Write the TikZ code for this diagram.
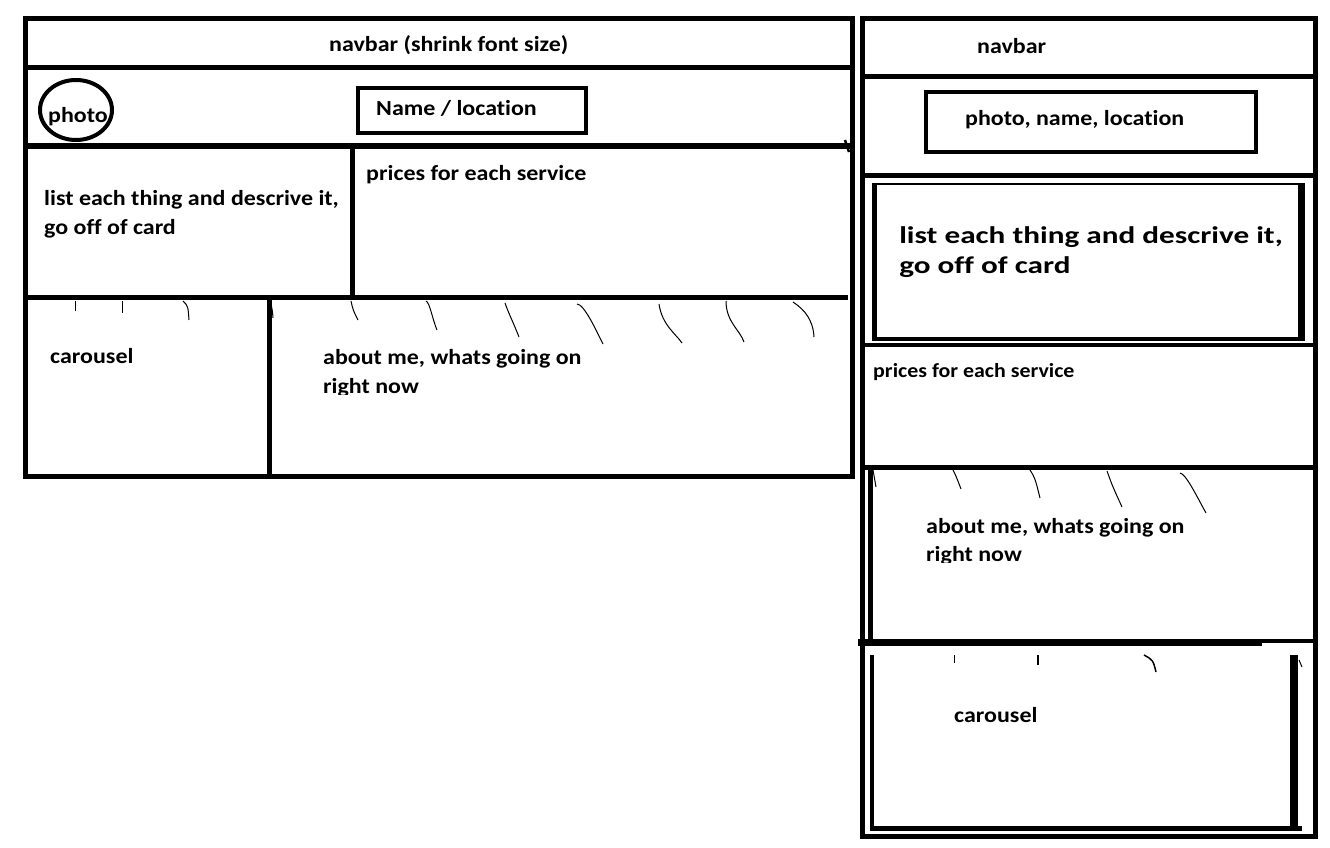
\documentclass[tikz,border=0pt]{standalone}
\usepackage{fontspec}
\setmainfont{Carlito}[Ligatures=NoCommon]
\begin{document}
\begin{tikzpicture}[x=1pt,y=-1pt,
  frame/.style={line width=5pt},
  boxline/.style={line width=4pt},
  hair/.style={line width=1pt},
  lbl/.style={font=\bfseries\fontsize{21.5}{26}\selectfont, anchor=base west, inner sep=0pt, xscale=1.115},
  lblbig/.style={font=\bfseries\fontsize{24}{29}\selectfont, anchor=base west, inner sep=0pt, xscale=1.30},
  lblsmall/.style={font=\bfseries\fontsize{20}{24}\selectfont, anchor=base west, inner sep=0pt, xscale=1.095}]
\useasboundingbox[fill=white] (0,0) rectangle (1330,848);

% ---------- left (desktop) wireframe ----------
\draw[frame] (25,19) rectangle (852,476);
\draw[frame] (25,68) -- (852,68);
\draw[frame] (25,146) -- (850,146);
\draw[frame] (352,146) -- (352,297);
\draw[frame] (25,297) -- (848,297);
\draw[frame] (269,297) -- (269,476);
\draw[boxline] (76,110) ellipse [x radius=36pt, y radius=30pt];
\draw[boxline] (358,88) rectangle (586,133);
\draw[line width=2.5pt] (845,140) -- (849,152);

\node[lbl] (navL) at (329,52) {navbar (shrink font size)};
\node[lbl] (photoL) at (48,123) {photo};
\node[lbl] (nameL) at (376,116) {Name / location};
\node[lbl] (listL1) at (44,205) {list each thing and descrive it,};
\node[lbl] (listL2) at (44,234) {go off of card};
\node[lbl] (priceL) at (366,180) {prices for each service};
\node[lbl] (carL) at (50,363) {carousel};
\node[lbl] (aboutL1) at (323,364) {about me, whats going on};
\begin{scope}
  \clip (300,370) rectangle (700,394);
  \node[lbl] (aboutL2) at (323,393) {right now};
\end{scope}

% hand-drawn strokes under the carousel / about row
\draw[hair] (75,301) -- (75,311);
\draw[hair] (122,301) -- (122,313);
\draw[hair] (183,301) .. controls (188,306) .. (189,320);
\draw[hair] (268,301) .. controls (272,306) .. (273,318);
\draw[hair] (351,301) .. controls (353,310) .. (358,320);
\draw[hair] (426,301) .. controls (430,303) and (432,318) .. (437,330);
\draw[hair] (505,303) .. controls (508,312) and (514,324) .. (519,337);
\draw[hair] (577,304) .. controls (584,304) and (596,330) .. (603,344);
\draw[hair] (659,304) .. controls (662,325) and (676,334) .. (682,343);
\draw[hair] (726,301) .. controls (726,322) and (740,330) .. (744,342);
\draw[hair] (793,302) .. controls (805,310) and (813,320) .. (814,337);

% ---------- right (mobile) wireframe ----------
\draw[frame] (862,19) rectangle (1315,836);
\draw[frame] (862,77) -- (1315,77);
\draw[frame] (862,175) -- (1315,175);
\draw[boxline] (925.5,92.5) rectangle (1256,151.5);
% list box
\draw[line width=2pt] (872,183.5) -- (1305,183.5);
\draw[line width=5pt] (874.5,183) -- (874.5,341);
\draw[line width=7pt] (1301.5,183) -- (1301.5,341);
\draw[line width=4pt] (872,339) -- (1305,339);
\draw[boxline] (862,345) -- (1315,345);
\draw[frame] (862,467.5) -- (1315,467.5);
\draw[frame] (870,468) -- (870,641);
\draw[line width=7pt] (858,642) -- (1262,642);
\draw[boxline] (1262,641) -- (1315,641);
% carousel inner box
\draw[boxline] (872,655) -- (872,830);
\draw[line width=8pt] (1294,655) -- (1294,830);
\draw[frame] (870,828.5) -- (1302,828.5);

\node[lbl] (navR) at (977,54) {navbar};
\node[lbl] (photoR) at (965,125) {photo, name, location};
\node[lblbig] (listR1) at (899,243) {list each thing and descrive it,};
\node[lblbig] (listR2) at (899,273) {go off of card};
\node[lblsmall] (priceR) at (873,377) {prices for each service};
\node[lbl] (aboutR1) at (926,533) {about me, whats going on};
\begin{scope}
  \clip (900,540) rectangle (1250,562);
  \node[lbl] (aboutR2) at (926,561.5) {right now};
\end{scope}
\node[lbl] (carR) at (954,722) {carousel};

\draw[hair] (873,470) -- (876,487);
\draw[hair] (953,470) .. controls (956,476) .. (961,489);
\draw[hair] (1030,470) .. controls (1035,478) .. (1040,498);
\draw[hair] (1107,471) .. controls (1112,485) .. (1122,507);
\draw[hair] (1180,473) .. controls (1186,474) and (1196,495) .. (1206,513);
\draw[hair] (954,655) -- (954,663);
\draw[line width=2pt] (1038,655) -- (1038,665);
\draw[line width=1.5pt] (1144,655) .. controls (1153,660) .. (1156,672);
\draw[hair] (1299,660) -- (1302,667);
\end{tikzpicture}
\end{document}
